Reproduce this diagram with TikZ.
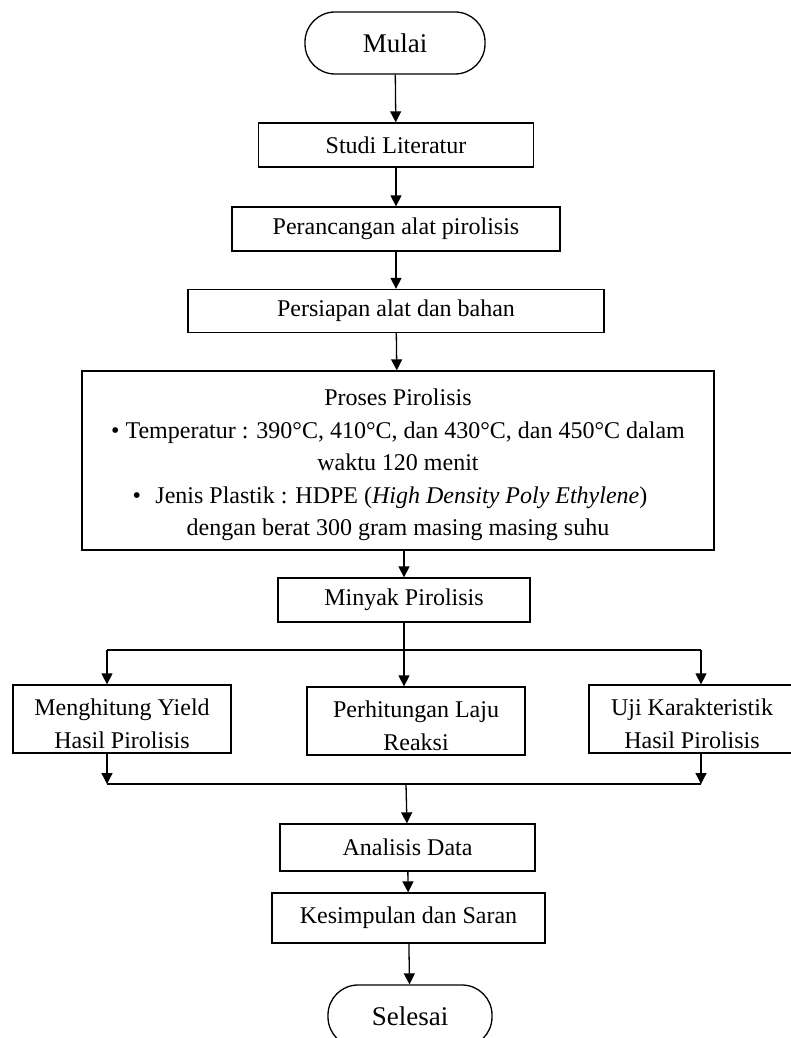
\documentclass[tikz,border=0pt]{standalone}
\usepackage{fontspec}
\setmainfont{Liberation Serif}
\usepackage{tikz}
\usetikzlibrary{arrows.meta, positioning}
\newcommand{\tinggi}{\rule{0pt}{26pt}}

\begin{document}
\begin{tikzpicture}[x=1pt, y=-1pt, >={Triangle[length=11pt, width=11pt]},
    every path/.style={line width=1.3pt},
    kotak/.style={draw, align=center, inner sep=0pt, font=\fontsize{24}{32.5}\selectfont},
    ujung/.style={kotak, rounded corners=30pt, minimum height=62pt, font=\fontsize{27}{32}\selectfont}]
        \useasboundingbox (0,0) rectangle (790,1038);
        \node[ujung, minimum width=180pt] (mulai) at (395,43) {Mulai};
        \node[kotak, minimum width=275pt, minimum height=44pt] (studi) at (396,145) {Studi Literatur};
        \node[kotak, minimum width=328pt, minimum height=44pt] (rancang) at (396,229) {Perancangan alat pirolisis};
        \node[kotak, minimum width=416pt, minimum height=43pt] (siapan) at (396,311) {Persiapan alat dan bahan};
        \node[kotak, minimum width=632pt, minimum height=179pt] (proses) at (398,460.5) {\tinggi Proses Pirolisis\\
            \textbullet{} Temperatur : 390°C, 410°C, dan 430°C, dan 450°C dalam\\
            waktu 120 menit\\
            \textbullet\hspace{0.6em}Jenis Plastik : HDPE (\textit{High Density Poly Ethylene})\kern16pt\\
            dengan berat 300 gram masing masing suhu};
        \node[kotak, minimum width=252pt, minimum height=44pt] (minyak) at (404,600) {Minyak Pirolisis};
        \node[kotak, minimum width=218pt, minimum height=68pt] (yield) at (122,719) {\tinggi Menghitung Yield\\Hasil Pirolisis};
        \node[kotak, minimum width=218pt, minimum height=68pt] (laju) at (416,721) {\tinggi Perhitungan Laju\\Reaksi};
        \node[kotak, minimum width=206pt, minimum height=68pt] (uji) at (692,719) {\tinggi Uji Karakteristik\\Hasil Pirolisis};
        \node[kotak, minimum width=255pt, minimum height=47pt] (analisis) at (407.5,847.5) {Analisis Data};
        \node[kotak, minimum width=273pt, minimum height=50pt] (simpul) at (408.5,918) {Kesimpulan dan Saran};
        \node[ujung, minimum width=164pt] (selesai) at (410,1016) {Selesai};
        \coordinate (pisah) at (404,650);
        \coordinate (kiri) at (107,650);
        \coordinate (kanan) at (701,650);
        \coordinate (gabung) at (406,784);
        \draw[->] (mulai) -- (studi);
        \draw[->] (studi) -- (rancang);
        \draw[->] (rancang) -- (siapan);
        \draw[->] (siapan) -- (proses);
        \draw[->] (proses.south -| minyak) -- (minyak);
        \draw (minyak) -- (pisah);
        \draw (kiri) -- (kanan);
        \draw[->] (kiri) -- (kiri |- yield.north);
        \draw[->] (pisah) -- (pisah |- laju.north);
        \draw[->] (kanan) -- (kanan |- uji.north);
        \draw[->] (kiri |- yield.south) -- (kiri |- gabung);
        \draw[->] (kanan |- uji.south) -- (kanan |- gabung);
        \draw (kiri |- gabung) -- (kanan |- gabung);
        \draw[->] (gabung) -- (analisis);
        \draw[->] (analisis) -- (simpul);
        \draw[->] (simpul) -- (selesai);
      \end{tikzpicture}
\end{document}
